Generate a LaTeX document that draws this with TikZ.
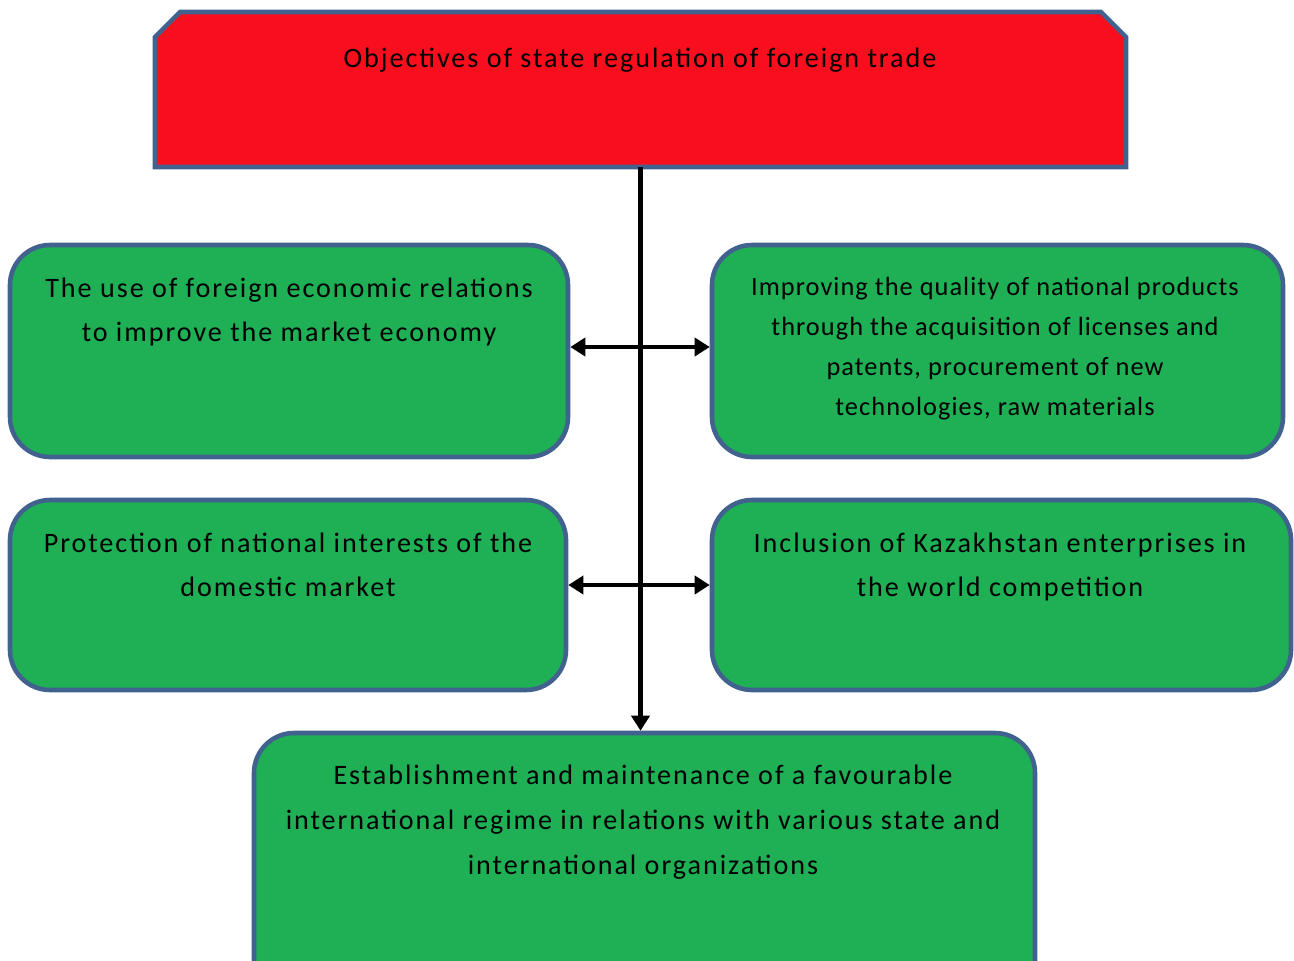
\documentclass[tikz,border=0pt]{standalone}
\usepackage{fontspec}
\setmainfont{Carlito}[LetterSpace=7]
\newfontfamily\narrowfont{Carlito}[LetterSpace=4]
\usetikzlibrary{arrows.meta,fit}
\definecolor{boxred}{RGB}{249,14,30}
\definecolor{boxgreen}{RGB}{31,175,85}
\definecolor{boxblue}{RGB}{65,98,143}

\begin{document}
\begin{tikzpicture}[x=0.02cm, y=-0.02cm,
    box/.style={draw=boxblue, line width=2.6pt, fill=boxgreen, rounded corners=0.8cm, inner sep=0pt},
    words/.style={anchor=north, align=center, inner sep=0pt, font=\fontsize{16}{25}\selectfont},
    link/.style={line width=2.8pt, -{Triangle[length=0.3cm, width=0.36cm]}},
    both/.style={line width=2.8pt, {Triangle[length=0.3cm, width=0.36cm]}-{Triangle[length=0.3cm, width=0.36cm]}}]

                \useasboundingbox (0,0) rectangle (1294,960);
                \clip (0,0) rectangle (1294,960);

                \draw[draw=boxblue, line width=2.6pt, fill=boxred] (155,167) -- (155,37) -- (180,12) -- (1101,12) -- (1126,37) -- (1126,167) -- cycle;
                \node[fit={(155,12) (1126,167)}, inner sep=0pt] (obj) {};
                \node[box, fit={(10,245) (568,457)}] (l1) {};
                \node[box, fit={(712,245) (1283,457)}] (r1) {};
                \node[box, fit={(10,500) (566,690)}] (l2) {};
                \node[box, fit={(712,500) (1291,690)}] (r2) {};
                \node[box, fit={(254,733) (1035,1000)}] (est) {};

                \node[words] (tobj) at (640,48) {Objectives of state regulation of foreign trade};
                \node[words] (tl1) at (289,278) {The use of foreign economic relations\\to improve the market economy};
                \node[words, font=\narrowfont\fontsize{15}{22.8}\selectfont] (tr1) at (995,277) {Improving the quality of national products\\through the acquisition of licenses and\\patents, procurement of new\\technologies, raw materials};
                \node[words] (tl2) at (288,533) {Protection of national interests of the\\domestic market};
                \node[words] (tr2) at (1000,533) {Inclusion of Kazakhstan enterprises in\\the world competition};
                \node[words, font=\fontsize{16}{25.5}\selectfont] (test) at (643,765) {Establishment and maintenance of a favourable\\international regime in relations with various state and\\international organizations};

                \draw[link] (obj.south) -- (obj.south |- est.north);
                \draw[both] ([yshift=0.08cm]l1.east) -- ([yshift=0.08cm]l1.east -| r1.west);
                \draw[both] ([yshift=0.2cm]l2.east) -- ([yshift=0.2cm]l2.east -| r2.west);
\end{tikzpicture}
\end{document}
